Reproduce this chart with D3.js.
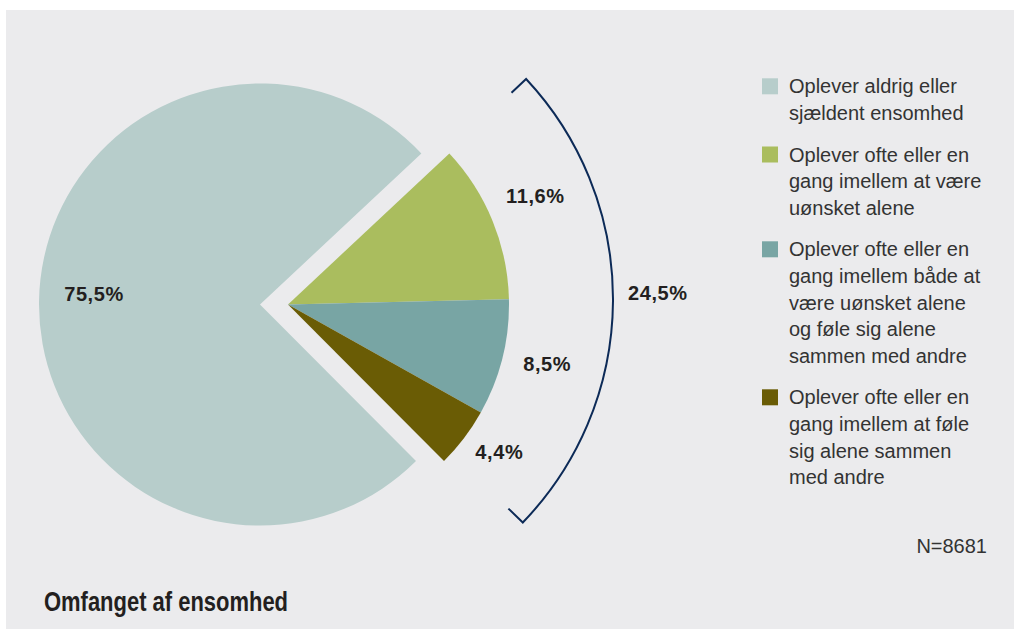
<!DOCTYPE html>
<html>
<head>
<meta charset="utf-8">
<script src="https://cdn.jsdelivr.net/npm/d3@7"></script>
<style>
  html, body { margin: 0; padding: 0; background: #fff; }
  svg { display: block; }
</style>
</head>
<body>
<div id="app"></div>
<script>
const categories = [
  ["Oplever aldrig eller", "sjældent ensomhed"],
  ["Oplever ofte eller en", "gang imellem at være", "uønsket alene"],
  ["Oplever ofte eller en", "gang imellem både at", "være uønsket alene", "og føle sig alene", "sammen med andre"],
  ["Oplever ofte eller en", "gang imellem at føle", "sig alene sammen", "med andre"]
];
const values = [75.5, 11.6, 8.5, 4.4];
const valueLabels = ["75,5%", "11,6%", "8,5%", "4,4%"];
const groupLabel = "24,5%";
const colors = ["#b7cdcb", "#aabd5e", "#78a5a4", "#6a5c05"];
const title = "Omfanget af ensomhed";
const note = "N=8681";

const width = 1014, height = 629;

const svg = d3.create("svg")
  .attr("width", width)
  .attr("height", height)
  .attr("viewBox", [0, 0, width, height]);

// grey panel
svg.append("rect")
  .attr("x", 6).attr("y", 10)
  .attr("width", width - 6).attr("height", height - 10)
  .attr("fill", "#ebebed");

const cx = 274, cy = 304.5, radius = 221, explode = 14;

// the large slice is centred at the left, the three small ones open to the right
const total = d3.sum(values);
const bigAngle = values[0] / total * 2 * Math.PI;
const start = (271 * Math.PI / 180) - bigAngle / 2;

const pie = d3.pie().sort(null).value(d => d)
  .startAngle(start).endAngle(start + 2 * Math.PI);
const arcs = pie(values);

const arc = d3.arc().innerRadius(0).outerRadius(radius);

// big slice pushed left, small slices pushed right as a group
const offset = i => (i === 0 ? -explode : explode);

const slices = svg.append("g");
arcs.forEach((a, i) => {
  slices.append("path")
    .attr("d", arc(a))
    .attr("transform", `translate(${cx + offset(i)},${cy})`)
    .attr("fill", colors[i]);
});

// value labels
const labelArcBig = d3.arc().innerRadius(166).outerRadius(166);
const labelArcSmall = d3.arc().innerRadius(264).outerRadius(264);
const nudge = [[0, -8], [3, -9], [3, -4], [1, -12]];
const labelFont = "Liberation Sans, Arial, sans-serif";
arcs.forEach((a, i) => {
  const c = (i === 0 ? labelArcBig : labelArcSmall).centroid(a);
  svg.append("text")
    .attr("x", cx + offset(i) + c[0] + nudge[i][0])
    .attr("y", cy + c[1] + nudge[i][1] + 7)
    .attr("text-anchor", "middle")
    .attr("font-family", labelFont)
    .attr("font-weight", "bold")
    .attr("font-size", 20)
    .attr("letter-spacing", 0.6)
    .attr("fill", "#231f20")
    .text(valueLabels[i]);
});

// bracket around the small slices
const bx = cx + explode + 3, by = cy - 5.5, bR = 322, tick = 20;
const a0 = arcs[1].startAngle, a1 = arcs[arcs.length - 1].endAngle - 0.02;
const pt = (ang, r) => [bx + r * Math.sin(ang), by - r * Math.cos(ang)];
const bracket = d3.path();
let p = pt(a0, bR - tick);
bracket.moveTo(p[0], p[1]);
p = pt(a0, bR);
bracket.lineTo(p[0], p[1]);
bracket.arc(bx, by, bR, a0 - Math.PI / 2, a1 - Math.PI / 2, false);
p = pt(a1, bR - tick);
bracket.lineTo(p[0], p[1]);
svg.append("path")
  .attr("d", bracket.toString())
  .attr("fill", "none")
  .attr("stroke", "#0c2a57")
  .attr("stroke-width", 2);

svg.append("text")
  .attr("x", bx + bR + 15)
  .attr("y", by + 0.5)
  .attr("font-family", labelFont)
  .attr("font-weight", "bold")
  .attr("font-size", 20)
  .attr("letter-spacing", 0.6)
  .attr("fill", "#231f20")
  .text(groupLabel);

// legend
const legend = svg.append("g");
const lineH = 26.6, gap = 15;
let baseY = 93.3;
categories.forEach((lines, i) => {
  legend.append("rect")
    .attr("x", 762).attr("y", baseY - 15)
    .attr("width", 16).attr("height", 16)
    .attr("fill", colors[i]);
  const t = legend.append("text")
    .attr("x", 789)
    .attr("y", baseY)
    .attr("font-family", "Liberation Sans, Arial, sans-serif")
    .attr("font-size", 20)
    .attr("fill", "#333");
  lines.forEach((l, j) => {
    t.append("tspan").attr("x", 789).attr("y", baseY + j * lineH).text(l);
  });
  baseY += lines.length * lineH + gap;
});

svg.append("text")
  .attr("x", 987).attr("y", 553)
  .attr("text-anchor", "end")
  .attr("font-family", "Liberation Sans, Arial, sans-serif")
  .attr("font-size", 20)
  .attr("fill", "#333")
  .text(note);

svg.append("text")
  .attr("x", 44).attr("y", 611)
  .attr("font-family", "Liberation Sans Narrow, Arial Narrow, Liberation Sans, sans-serif")
  .attr("font-weight", "bold")
  .attr("font-size", 27)
  .attr("textLength", 244)
  .attr("lengthAdjust", "spacingAndGlyphs")
  .attr("fill", "#231f20")
  .text(title);

document.getElementById("app").append(svg.node());
</script>
</body>
</html>
